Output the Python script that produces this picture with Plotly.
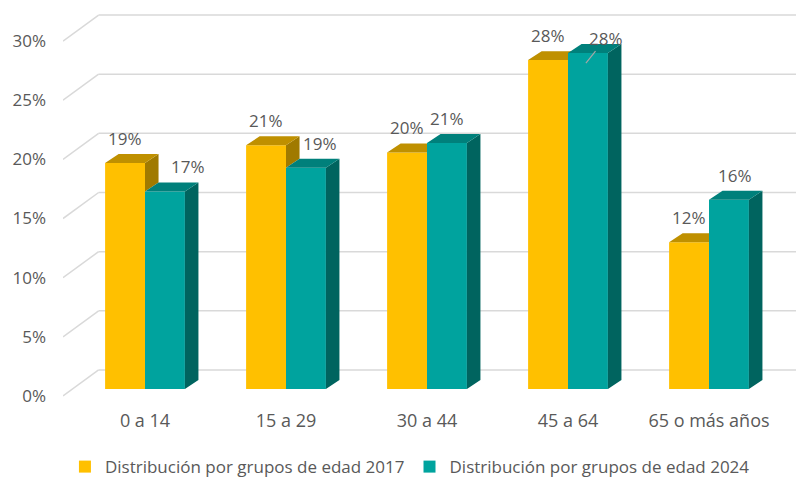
import plotly.graph_objects as go

# ---------------- data ----------------
categories = ["0 a 14", "15 a 29", "30 a 44", "45 a 64", "65 o más años"]
series_names = ["Distribución por grupos de edad 2017",
                "Distribución por grupos de edad 2024"]
values_2017 = [19.1, 20.6, 20.0, 27.8, 12.4]
values_2024 = [16.7, 18.7, 20.8, 28.4, 16.0]
y_ticks = [0, 5, 10, 15, 20, 25, 30]
y_tick_labels = ["0%", "5%", "10%", "15%", "20%", "25%", "30%"]

# ---------------- geometry / style ----------------
BAR_W = 0.283        # bar width (category units)
DX, DY = 0.096, 0.76  # bar depth projection (x units, y units)
FRONT_DY = -0.59     # front plane offset relative to bar plane (y units)
BACK_DY = 1.61       # back wall offset relative to bar plane (y units)
X_RANGE = [-0.5816, 4.617]
Y_RANGE = [-1.268, 32.206]
X_FRONT = X_RANGE[0]
X_BACK = -0.329

YEL = "#FFC000"; YEL_TOP = "#BF9000"; YEL_SIDE = "#A07A00"
TEA = "#00A39E"; TEA_TOP = "#00807B"; TEA_SIDE = "#00645F"
TXT = "#595959"; GRID = "#D9D9D9"
FONT = "Open Sans"

label_xshift_2017 = [0, 0, 0, 0, 0]
label_xshift_2024 = [23, 14, 0, 18, 6]
leader_2024 = [False, False, False, True, False]

xs = list(range(len(categories)))

fig = go.Figure()

# front faces
fig.add_trace(go.Bar(x=xs, y=values_2017, width=BAR_W, offset=-BAR_W,
                     marker=dict(color=YEL, line=dict(width=0)),
                     name=series_names[0], hoverinfo="skip"))
fig.add_trace(go.Bar(x=xs, y=values_2024, width=BAR_W, offset=0,
                     marker=dict(color=TEA, line=dict(width=0)),
                     name=series_names[1], hoverinfo="skip"))


def add_poly(px, py, color):
    fig.add_trace(go.Scatter(x=px, y=py, mode="lines", fill="toself",
                             fillcolor=color, line=dict(width=0, color=color),
                             showlegend=False, hoverinfo="skip"))


ys_x, ys_y, yt_x, yt_y, ts_x, ts_y, tt_x, tt_y = ([] for _ in range(8))
for i, (yv, tv) in enumerate(zip(values_2017, values_2024)):
    xl = i - BAR_W
    # yellow side (visible part above teal)
    if yv > tv:
        ys_x += [i, i, i + DX, i + DX, i, None]
        ys_y += [tv, yv, yv + DY, tv + DY, tv, None]
    # yellow top
    if tv >= yv + DY:
        yt_x += [xl, xl + DX, i, i, xl, None]
        yt_y += [yv, yv + DY, yv + DY, yv, yv, None]
    elif tv > yv:
        xc = i + DX * (tv - yv) / DY
        yt_x += [xl, xl + DX, i + DX, xc, i, i, xl, None]
        yt_y += [yv, yv + DY, yv + DY, tv, tv, yv, yv, None]
    else:
        yt_x += [xl, xl + DX, i + DX, i, xl, None]
        yt_y += [yv, yv + DY, yv + DY, yv, yv, None]
    # teal side
    xr = i + BAR_W
    ts_x += [xr, xr, xr + DX, xr + DX, xr, None]
    ts_y += [0, tv, tv + DY, DY, 0, None]
    # teal top
    tt_x += [i, i + DX, xr + DX, xr, i, None]
    tt_y += [tv, tv + DY, tv + DY, tv, tv, None]

add_poly(ys_x, ys_y, YEL_SIDE)
add_poly(yt_x, yt_y, YEL_TOP)
add_poly(ts_x, ts_y, TEA_SIDE)
add_poly(tt_x, tt_y, TEA_TOP)

# gridlines (slanted floor-side + back wall)
shapes = []
for t in y_ticks:
    shapes.append(dict(type="line", xref="x", yref="y", layer="below",
                       x0=X_FRONT, y0=t + FRONT_DY, x1=X_BACK, y1=t + BACK_DY,
                       line=dict(color=GRID, width=1.5)))
    shapes.append(dict(type="line", xref="x", yref="y", layer="below",
                       x0=X_BACK, y0=t + BACK_DY, x1=X_RANGE[1], y1=t + BACK_DY,
                       line=dict(color=GRID, width=1.5)))

# data labels
annotations = []
for i, v in enumerate(values_2017):
    annotations.append(dict(x=i - BAR_W / 2, y=v + DY, text=f"{round(v)}%",
                            showarrow=False, yanchor="bottom", yshift=2,
                            xshift=label_xshift_2017[i],
                            font=dict(family=FONT, size=17, color=TXT)))
for i, v in enumerate(values_2024):
    if leader_2024[i]:
        annotations.append(dict(x=i + 0.127, y=v - 0.85, text=f"{round(v)}%",
                                showarrow=True, arrowhead=0, arrowwidth=1.2,
                                arrowcolor="#A6A6A6", ax=20, ay=-25,
                                font=dict(family=FONT, size=17, color=TXT)))
    else:
        annotations.append(dict(x=i + BAR_W / 2, y=v + DY, text=f"{round(v)}%",
                                showarrow=False, yanchor="bottom", yshift=2,
                                xshift=label_xshift_2024[i],
                                font=dict(family=FONT, size=17, color=TXT)))

fig.update_layout(
    width=796, height=481,
    margin=dict(l=63, r=0, t=8, b=77, autoexpand=False),
    paper_bgcolor="white", plot_bgcolor="white",
    font=dict(family=FONT, color=TXT),
    barmode="overlay",
    showlegend=True,
    legend=dict(orientation="h", xref="container", yref="container",
                x=0.515, xanchor="center", y=0.029, yanchor="middle",
                font=dict(family=FONT, size=17, color=TXT),
                traceorder="normal"),
    shapes=shapes,
    annotations=annotations,
    xaxis=dict(range=X_RANGE, tickvals=xs, ticktext=categories,
               showgrid=False, zeroline=False, showline=False, ticks="",
               ticklabelstandoff=4, automargin=False,
               tickfont=dict(family=FONT, size=18, color=TXT), fixedrange=True),
    yaxis=dict(range=Y_RANGE, tickvals=[t + FRONT_DY for t in y_ticks],
               ticktext=y_tick_labels, showgrid=False, zeroline=False,
               showline=False, ticks="", ticklabelstandoff=16, automargin=False,
               tickfont=dict(family=FONT, size=17, color=TXT), fixedrange=True),
)

fig.write_html("out.html",
               config={"displayModeBar": False},
               post_script="document.body.style.margin='0';"
                           "document.body.style.overflow='hidden';")
